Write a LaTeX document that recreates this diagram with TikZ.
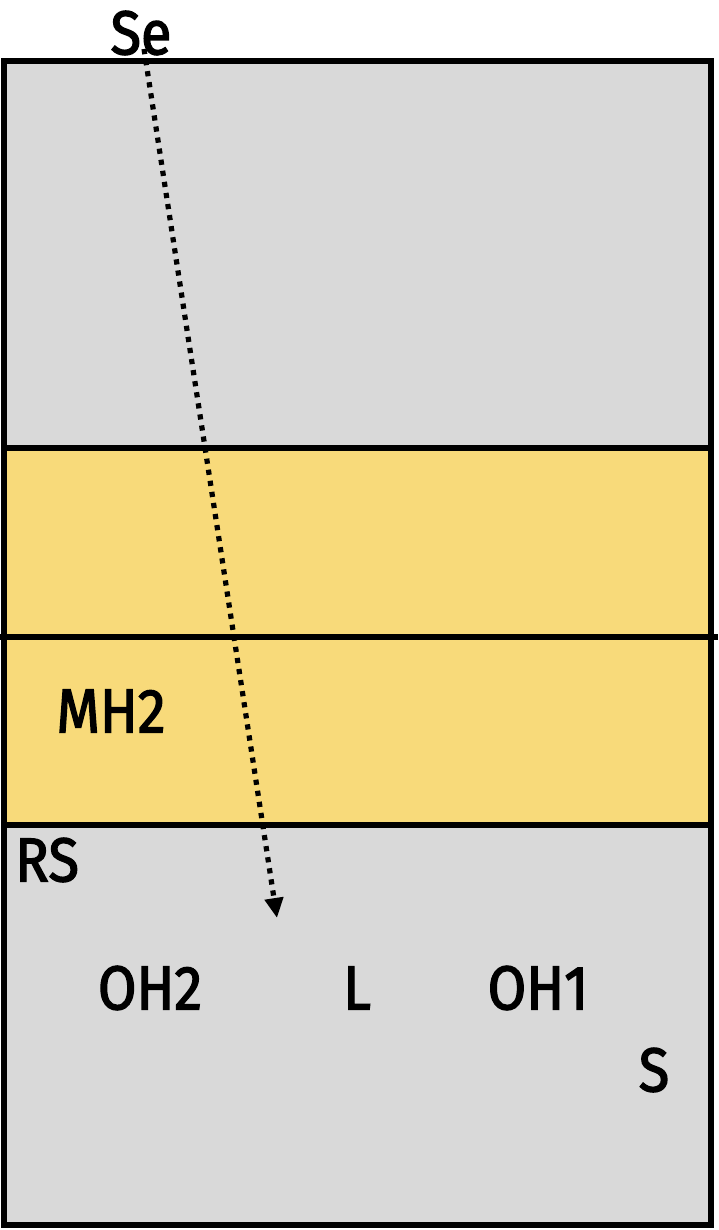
\documentclass[tikz,border=0pt]{standalone}
\usepackage{fontspec}
\setmainfont{Fira Sans}[FakeBold=2.2, FakeStretch=0.9]
\usetikzlibrary{arrows.meta}
\begin{document}
\begin{tikzpicture}[x=0.5pt, y=-0.5pt, line cap=butt, line join=miter]
  \definecolor{Ink}{HTML}{000000}
  \definecolor{Rock}{HTML}{D9D9D9}
  \definecolor{Seam}{HTML}{F8DA7A}

  \tikzset{
    layer/.style={draw=Ink, line width=3pt},
    tag/.style={font=\fontsize{31}{31}\selectfont, text=Ink, inner sep=0pt},
    path/.style={draw=Ink, line width=2.6pt, dash pattern=on 2.6pt off 3pt,
      -{Triangle[length=10pt, width=9pt]}}
  }

  \useasboundingbox (0,0) rectangle (718,1230);

  % Strata: roof, seam, floor
  \path[layer, fill=Rock] (4,61) rectangle (711,448);
  \path[layer, fill=Seam] (4,448) rectangle (711,825);
  \path[layer, fill=Rock] (4,825) rectangle (711,1225);
  \draw[layer] (0,637) -- (718,637);

  % Labels
  \node[tag] (se) at (141,33) {Se};
  \node[tag] (mh2) at (111,711) {MH2};
  \node[tag] (rs) at (47,860) {RS};
  \node[tag] (oh2) at (150,988) {OH2};
  \node[tag] (l) at (357,988) {L};
  \node[tag] (oh1) at (538,988) {OH1};
  \node[tag] (s) at (654,1070) {S};

  % Ray
  \coordinate (raystart) at (144,49);
  \coordinate (rayend) at (277,918);
  \draw[path] (raystart) -- (rayend);
\end{tikzpicture}
\end{document}
